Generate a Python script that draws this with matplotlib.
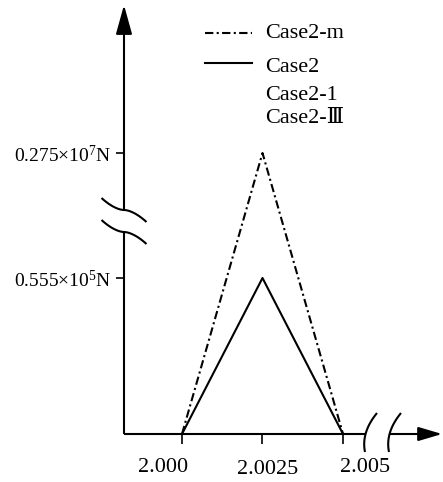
import numpy as np
import matplotlib
matplotlib.use('Agg')
import matplotlib.pyplot as plt
from matplotlib.lines import Line2D
from matplotlib.transforms import ScaledTranslation

# data
x_vals = [2.000, 2.0025, 2.005]
case2_m = [0.0, 0.275e7, 0.0]
case2 = [0.0, 0.555e5, 0.0]

x_ticks = [2.000, 2.0025, 2.005]
x_tick_labels = ['2.000', '2.0025', '2.005']
y_ticks = [0.555e5, 0.275e7]
y_tick_labels = ['0.555×10$^5$N', '0.275×10$^7$N']

legend_top = 'Case2-m'
legend_rest = ['Case2', 'Case2-1', 'Case2-Ⅲ']

plt.rcParams['font.family'] = ['Liberation Serif', 'DejaVu Serif', 'DejaVu Sans']
plt.rcParams['mathtext.fontset'] = 'custom'
plt.rcParams['mathtext.rm'] = 'Liberation Serif'
plt.rcParams['mathtext.it'] = 'Liberation Serif:italic'

W, H = 443, 482
fig = plt.figure(figsize=(W / 100, H / 100), dpi=100)
# axes box in pixels: origin (124, 434), right end 442, top 5
ax_w, ax_h = 442 - 124, 434 - 5
ax = fig.add_axes([124 / W, (H - 434) / H, ax_w / W, ax_h / H])

# broken y axis: piecewise linear scale (pixel heights above the x axis)
knots_data = [0.0, 0.555e5, 0.275e7, 1.0e7]
knots_pos = [0.0, 156.0, 281.0, 281.0 + 125.0 * (1.0e7 - 0.275e7) / (0.275e7 - 0.555e5)]


def fwd(y):
    return np.interp(y, knots_data, knots_pos)


def inv(p):
    return np.interp(p, knots_pos, knots_data)


ax.set_yscale('function', functions=(fwd, inv))
ax.set_ylim(0, float(inv(ax_h)))

px_per_unit = 161 / 0.005
ax.set_xlim(2.0 - (182 - 124) / px_per_unit, 2.0 + (442 - 182) / px_per_unit)

ax.plot(x_vals, case2_m, color='k', lw=1.5, dashes=(4, 1.6, 1, 1.6), clip_on=False)
ax.plot(x_vals, case2, color='k', lw=1.5, clip_on=False)

for s in ax.spines.values():
    s.set_visible(False)

ax.set_xticks(x_ticks, x_tick_labels)
ax.set_yticks(y_ticks, y_tick_labels)
ax.minorticks_off()
ax.tick_params(axis='x', direction='out', length=7, width=1.2, pad=10, labelsize=16)
ax.tick_params(axis='y', direction='out', length=6, width=1.2, pad=3, labelsize=14)

# the x labels in the original sit off their ticks
x_label_shift = [(-19, 0), (5, -2), (22, 0)]
for lab, (dx, dy) in zip(ax.get_xticklabels(), x_label_shift):
    lab.set_transform(lab.get_transform() + ScaledTranslation(dx / 100, dy / 100, fig.dpi_scale_trans))

# axis lines with breaks and arrow heads
ybrk_lo, ybrk_hi = 202 / ax_h, 224 / ax_h
xbrk_lo, xbrk_hi = (366 - 124) / ax_w, (390 - 124) / ax_w
kw = dict(color='k', lw=1.5, transform=ax.transAxes, clip_on=False, solid_capstyle='butt')
ax.plot([0, 0], [0, ybrk_lo], **kw)
ax.plot([0, xbrk_lo], [0, 0], **kw)
ax.annotate('', xy=(0, 1), xytext=(0, ybrk_hi), xycoords='axes fraction',
            arrowprops=dict(arrowstyle='-|>,head_length=1.8,head_width=0.5', color='k',
                            lw=1.5, shrinkA=0, shrinkB=0, mutation_scale=10))
ax.annotate('', xy=(1, 0), xytext=(xbrk_hi, 0), xycoords='axes fraction',
            arrowprops=dict(arrowstyle='-|>,head_length=1.45,head_width=0.43', color='k',
                            lw=1.5, shrinkA=0, shrinkB=0, mutation_scale=10))

# break marks
t = np.linspace(-1, 1, 60)
for cy in (ybrk_lo, ybrk_hi):
    bx = 22.5 * t / ax_w
    by = cy - 12 * np.sign(t) * np.abs(t) ** 1.7 / ax_h
    ax.plot(bx, by, **kw)
for cx in (xbrk_lo, xbrk_hi):
    bx = cx + (6 * t + 5 * t ** 2) / ax_w
    by = (1.5 + 19.5 * t) / ax_h
    ax.plot(bx, by, **kw)

# hand-drawn legend
fig.add_artist(Line2D([205 / W, 252 / W], [1 - 33 / H] * 2, color='k', lw=1.5,
                      dashes=(4, 1.6, 1, 1.6)))
fig.add_artist(Line2D([205 / W, 252 / W], [1 - 63 / H] * 2, color='k', lw=1.5))
fig.text(265 / W, 1 - 38 / H, legend_top, fontsize=16, va='baseline')
for txt, base in zip(legend_rest, [72, 100, 123]):
    fig.text(265 / W, 1 - base / H, txt, fontsize=16, va='baseline')

fig.savefig('out.png', dpi=100)
